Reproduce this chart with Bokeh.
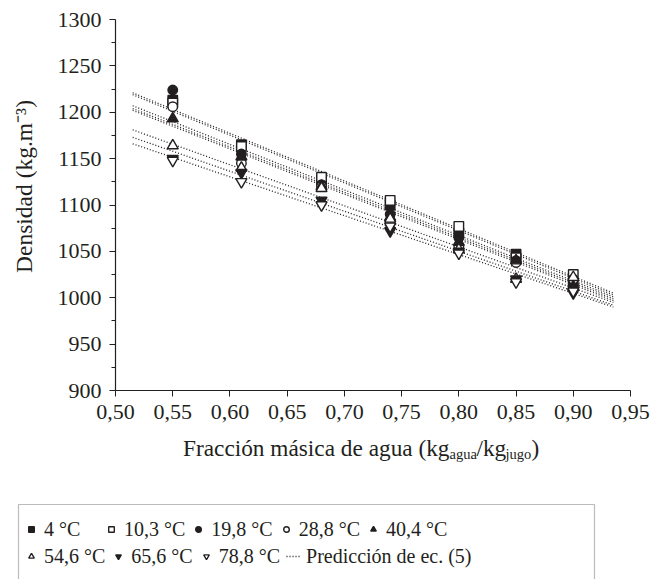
from bokeh.plotting import figure
from bokeh.models import (ColumnDataSource, Legend, LegendItem, Label, FixedTicker,
                          BoxAnnotation)
from bokeh.embed import file_html
from bokeh.resources import INLINE

# ---------------- data ----------------
water_fraction = [0.55, 0.61, 0.68, 0.74, 0.80, 0.85, 0.90]

temps = ["4 °C", "10,3 °C", "19,8 °C", "28,8 °C", "40,4 °C",
         "54,6 °C", "65,6 °C", "78,8 °C"]

dens_4 = [1213, 1165, 1127, 1100, 1070, 1047, 1015]
dens_10 = [1210, 1163, 1130, 1105, 1077, 1043, 1025]
dens_19 = [1224, 1155, 1122, 1090, 1065, 1040, 1013]
dens_28 = [1206, 1145, 1120, 1080, 1055, 1038, 1020]
dens_40 = [1193, 1152, 1120, 1087, 1060, 1040, 1012]
dens_54 = [1164, 1140, 1118, 1085, 1052, 1020, 1022]
dens_65 = [1150, 1135, 1105, 1072, 1050, 1020, 1005]
dens_78 = [1148, 1125, 1100, 1077, 1048, 1017, 1007]

series = [dens_4, dens_10, dens_19, dens_28, dens_40, dens_54, dens_65, dens_78]
markers = ["square", "square", "circle", "circle", "triangle",
           "triangle", "inverted_triangle", "inverted_triangle"]
filled = [True, False, True, False, True, False, True, False]

# prediction lines (eq. 5), one per temperature: value at start and end x
pred_x = [0.515, 0.935]
pred_start = [1221, 1219, 1207, 1204, 1202, 1181, 1173, 1166]
pred_end = [1005, 1003, 1001, 999, 997, 995, 992, 990]
pred_label = "Predicción de ec. (5)"

x_ticks = [0.50, 0.55, 0.60, 0.65, 0.70, 0.75, 0.80, 0.85, 0.90, 0.95]
x_tick_labels = ["0,50", "0,55", "0,60", "0,65", "0,70", "0,75",
                 "0,80", "0,85", "0,90", "0,95"]
y_ticks = [900, 950, 1000, 1050, 1100, 1150, 1200, 1250, 1300]
y_minor = [925, 975, 1025, 1075, 1125, 1175, 1225, 1275]
y_title = "Densidad (kg.m⁻³)"

FONT = "Liberation Serif"
INK = "#231f20"

# The frame fills the whole canvas; the axes are pinned at x=0.50 / y=900,
# so the legend and the x title below the axis are inside the frame.
W, H = 667, 579
px_per_x = 1144.0      # pixels per unit of water fraction
px_per_y = 0.9275      # pixels per kg/m3
left_pad, right_pad = 115, 37
top_pad, bottom_pad = 19, 189
x_range = (0.50 - left_pad / px_per_x, 0.95 + right_pad / px_per_x)
y_range = (900 - bottom_pad / px_per_y, 1300 + top_pad / px_per_y)

p = figure(width=W, height=H, output_backend="svg", toolbar_location=None,
           x_range=x_range, y_range=y_range, min_border=0)
p.outline_line_color = None
p.grid.visible = False
p.background_fill_color = "white"
p.border_fill_color = "white"

p.xaxis.fixed_location = 900
p.yaxis.fixed_location = 0.50
p.xaxis.bounds = (0.50, 0.95)
p.yaxis.bounds = (900, 1300)
p.xaxis.ticker = FixedTicker(ticks=x_ticks)
p.xaxis.major_label_overrides = {t: l for t, l in zip(x_ticks, x_tick_labels)}
p.yaxis.ticker = FixedTicker(ticks=y_ticks, minor_ticks=y_minor)
for ax in (p.xaxis[0], p.yaxis[0]):
    ax.axis_line_color = INK
    ax.axis_line_width = 1.2
    ax.major_tick_line_color = INK
    ax.minor_tick_line_color = INK
    ax.major_tick_in = 0
    ax.major_tick_out = 6
    ax.minor_tick_in = 0
    ax.minor_tick_out = 4
    ax.major_label_text_font = FONT
    ax.major_label_text_font_size = "22px"
    ax.major_label_text_color = INK
p.xaxis.minor_tick_line_color = None
p.xaxis.major_label_standoff = 8
p.yaxis.major_label_standoff = 8

# prediction lines
pred_renderers = []
for s, e in zip(pred_start, pred_end):
    src = ColumnDataSource(dict(x=pred_x, y=[s, e]))
    r = p.line("x", "y", source=src, line_color=INK, line_width=1.3,
               line_dash="1 2")
    pred_renderers.append(r)

# data points
renderers = []
for ys, m, f in zip(series, markers, filled):
    src = ColumnDataSource(dict(x=water_fraction, y=ys))
    r = p.scatter("x", "y", source=src, marker=m,
                  size=11 if "triangle" in m else 9.5,
                  fill_color=INK if f else "white", line_color=INK,
                  line_width=1.4)
    renderers.append(r)

# legend box (screen units, origin at the bottom-left of the frame/canvas)
p.add_layout(BoxAnnotation(left=18, right=594, top=75, bottom=-20,
                           left_units="screen", right_units="screen",
                           top_units="screen", bottom_units="screen",
                           fill_color="white", fill_alpha=1,
                           line_color=INK, line_width=1.2, level="annotation"))

legend_style = dict(orientation="horizontal", border_line_color=None,
                    background_fill_alpha=0, padding=0, spacing=6, margin=0,
                    label_text_font=FONT, label_text_font_size="20px",
                    label_text_color=INK, glyph_width=14, glyph_height=18,
                    label_height=24, label_width=54, label_standoff=6)
row1 = [LegendItem(label=t, renderers=[r]) for t, r in zip(temps[:5], renderers[:5])]
row2 = [LegendItem(label=t, renderers=[r]) for t, r in zip(temps[5:], renderers[5:])]
row2.append(LegendItem(label=pred_label, renderers=[pred_renderers[0]]))
p.add_layout(Legend(items=row1, location=(24, 38), **legend_style), "center")
p.add_layout(Legend(items=row2, location=(24, 11), **legend_style), "center")

# axis titles (x title with subscripts)
def lab(x, y, text, size, align="left", baseline="alphabetic", angle=0):
    p.add_layout(Label(x=x, y=y, x_units="screen", y_units="screen",
                       text=text, text_align=align, angle=angle,
                       angle_units="deg", text_baseline=baseline,
                       text_font=FONT, text_font_size=size, text_color=INK))

lab(23, 393, y_title, "23.5px", "center", "middle", 90)

ty = 132
sub_y = ty - 6
lab(449, ty, "Fracción másica de agua (kg", "23.3px", "right")
lab(449, sub_y, "agua", "14.5px")
lab(476, ty, "/kg", "23.3px")
lab(505, sub_y, "jugo", "14.5px")
lab(531, ty, ")", "23.3px")

open("out.html", "w").write(file_html(p, INLINE))
